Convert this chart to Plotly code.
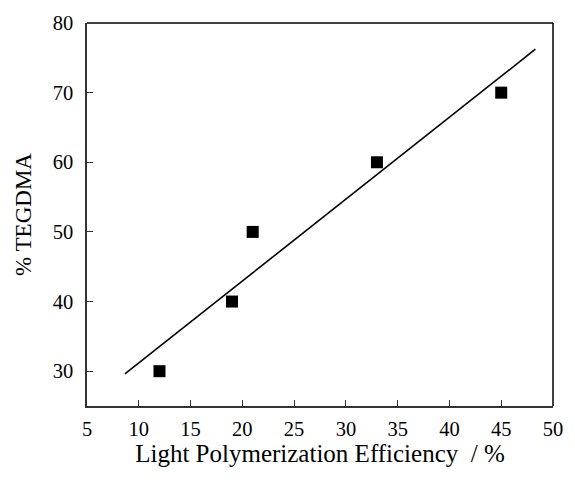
import numpy as np
import plotly.graph_objects as go

efficiency = [12, 19, 21, 33, 45]
tegdma = [30, 40, 50, 60, 70]
fit_x_range = [8.66, 48.3]

x_ticks = [5, 10, 15, 20, 25, 30, 35, 40, 45, 50]
y_ticks = [30, 40, 50, 60, 70, 80]

slope, intercept = np.polyfit(efficiency, tegdma, 1)
fit_y = [slope * x + intercept for x in fit_x_range]

font = "Liberation Serif, Times New Roman, serif"

fig = go.Figure()
fig.add_trace(go.Scatter(x=fit_x_range, y=fit_y, mode="lines",
                         line=dict(color="black", width=1.6), showlegend=False))
fig.add_trace(go.Scatter(x=efficiency, y=tegdma, mode="markers",
                         marker=dict(symbol="square", size=12, color="black"),
                         showlegend=False))

fig.update_layout(
    width=575, height=480,
    margin=dict(l=87, r=12, t=18, b=74),
    paper_bgcolor="white", plot_bgcolor="white",
    font=dict(family=font, color="black", size=20),
    xaxis=dict(range=[5, 50], tickvals=x_ticks, ticks="inside", ticklen=6,
               tickcolor="#333", tickwidth=1.3,
               tickfont=dict(family=font, size=20.5),
               showline=True, linecolor="#333", linewidth=1.5, mirror=False,
               showgrid=False, zeroline=False,
               ticklabelstandoff=4,
               title=dict(text="Light Polymerization Efficiency &nbsp;/ %",
                          font=dict(size=25, family=font), standoff=3)),
    yaxis=dict(range=[25, 80], tickvals=y_ticks, ticks="inside", ticklen=6,
               tickcolor="#333", tickwidth=1.3,
               tickfont=dict(family=font, size=20.5),
               showline=True, linecolor="#333", linewidth=1.5, mirror=False,
               showgrid=False, zeroline=False,
               ticklabelstandoff=8,
               title=dict(text="% TEGDMA", font=dict(size=23, family=font), standoff=15)),
    shapes=[
        dict(type="line", xref="paper", yref="paper", x0=0, x1=1, y0=1, y1=1,
             line=dict(color="black", width=1.5)),
        dict(type="line", xref="paper", yref="paper", x0=1, x1=1, y0=0, y1=1,
             line=dict(color="black", width=1.5)),
    ],
)

fig.write_html("out.html")
